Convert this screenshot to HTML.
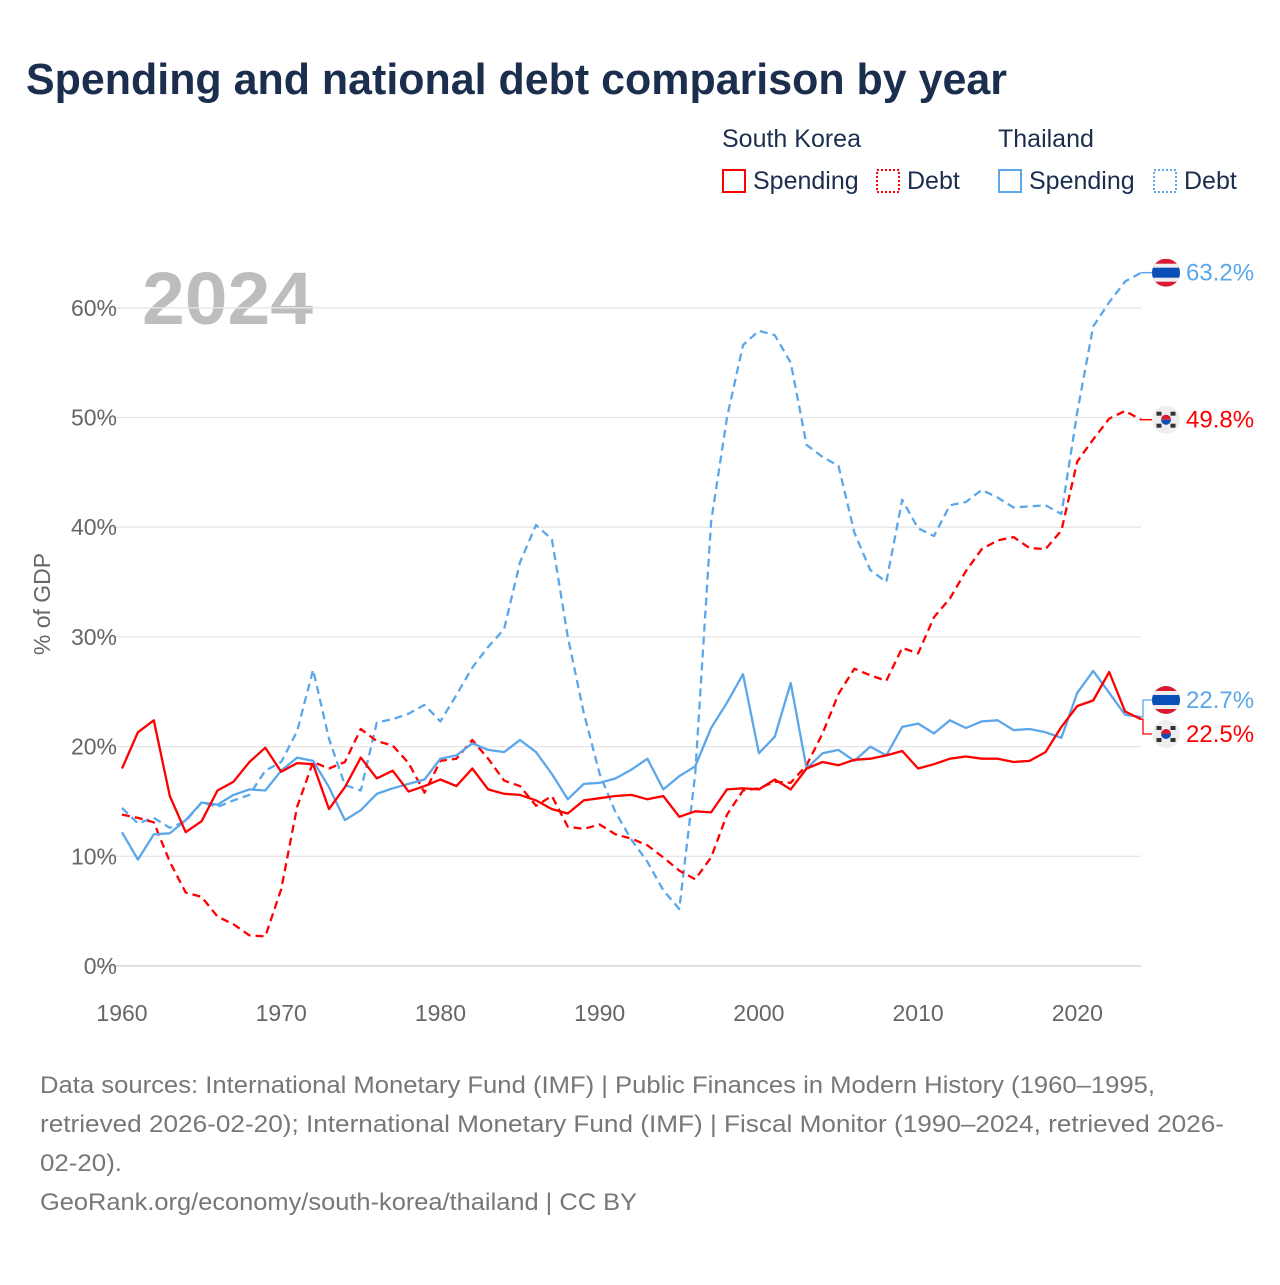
<!DOCTYPE html>
<html><head><meta charset="utf-8"><style>
body{margin:0;background:#fff;font-family:"Liberation Sans",sans-serif}
svg text{font-family:"Liberation Sans",sans-serif}
</style></head><body>
<svg width="1280" height="1280" viewBox="0 0 1280 1280" xmlns="http://www.w3.org/2000/svg">
<defs id="defs"></defs>
<text x="26" y="94" font-size="44" font-weight="bold" fill="#1b2e4e" textLength="981" lengthAdjust="spacingAndGlyphs">Spending and national debt comparison by year</text>
<g font-size="25" fill="#1b2e4e">
<text x="722" y="147">South Korea</text>
<text x="998" y="147">Thailand</text>
<rect x="723" y="170" width="22" height="22" fill="none" stroke="#f00" stroke-width="2"/>
<text x="753" y="189">Spending</text>
<rect x="877" y="170" width="22" height="22" fill="none" stroke="#f00" stroke-width="2" stroke-dasharray="2 2"/>
<text x="907" y="189">Debt</text>
<rect x="999" y="170" width="22" height="22" fill="none" stroke="#5ba7ea" stroke-width="2"/>
<text x="1029" y="189">Spending</text>
<rect x="1154" y="170" width="22" height="22" fill="none" stroke="#5ba7ea" stroke-width="2" stroke-dasharray="2 2"/>
<text x="1184" y="189">Debt</text>
</g>
<text x="142" y="324" font-size="74" font-weight="bold" fill="#bdbdbd" textLength="171" lengthAdjust="spacingAndGlyphs">2024</text>
<text transform="translate(50,604) rotate(-90)" text-anchor="middle" font-size="23" fill="#666">% of GDP</text>
<g id="grid"></g><g id="xt"></g><g id="lines"></g><g id="ends"></g>
<g font-size="24" fill="#777">
<text x="40" y="1093" textLength="1115" lengthAdjust="spacingAndGlyphs">Data sources: International Monetary Fund (IMF) | Public Finances in Modern History (1960–1995,</text>
<text x="40" y="1132" textLength="1184" lengthAdjust="spacingAndGlyphs">retrieved 2026-02-20); International Monetary Fund (IMF) | Fiscal Monitor (1990–2024, retrieved 2026-</text>
<text x="40" y="1171" textLength="82" lengthAdjust="spacingAndGlyphs">02-20).</text>
<text x="40" y="1210" textLength="597" lengthAdjust="spacingAndGlyphs">GeoRank.org/economy/south-korea/thailand | CC BY</text>
</g>
</svg>
<script>
const years=[];for(let y=1960;y<=2024;y++)years.push(y);
const yTicks=[0,10,20,30,40,50,60];
const xTicks=[1960,1970,1980,1990,2000,2010,2020];
const krSpending=[18.0,21.3,22.4,15.5,12.2,13.2,16.0,16.8,18.6,19.9,17.7,18.5,18.4,14.3,16.3,19.0,17.1,17.8,15.9,16.4,17.0,16.4,18.0,16.1,15.7,15.6,15.1,14.3,13.9,15.1,15.3,15.5,15.6,15.2,15.5,13.6,14.1,14.0,16.1,16.2,16.1,17.0,16.1,18.0,18.6,18.3,18.8,18.9,19.2,19.6,18.0,18.4,18.9,19.1,18.9,18.9,18.6,18.7,19.5,21.8,23.7,24.2,26.8,23.2,22.5];
const krDebt=[13.8,13.5,13.1,9.5,6.7,6.3,4.5,3.8,2.8,2.7,7.0,14.5,18.6,18.0,18.6,21.6,20.5,20.1,18.5,15.8,18.7,18.9,20.6,18.9,16.9,16.4,14.6,15.5,12.7,12.5,12.9,12.0,11.6,11.0,9.9,8.7,7.9,9.9,13.8,16.0,16.2,16.8,16.7,18.3,21.2,24.8,27.1,26.5,26.0,29.0,28.5,31.8,33.5,36.0,38.0,38.8,39.1,38.1,38.0,39.7,46.0,48.0,49.9,50.6,49.8];
const thSpending=[12.2,9.7,12.0,12.1,13.3,14.9,14.7,15.6,16.1,16.0,17.8,19.0,18.7,16.3,13.3,14.2,15.7,16.2,16.6,17.0,18.9,19.2,20.3,19.7,19.5,20.6,19.5,17.5,15.2,16.6,16.7,17.1,17.9,18.9,16.1,17.3,18.2,21.7,24.0,26.6,19.4,20.9,25.8,18.0,19.4,19.7,18.7,20.0,19.2,21.8,22.1,21.2,22.4,21.7,22.3,22.4,21.5,21.6,21.3,20.8,24.9,26.9,24.9,22.9,22.7];
const thDebt=[14.4,13.0,13.5,12.6,13.2,14.9,14.5,15.1,15.6,17.8,18.6,21.4,27.0,20.7,16.5,16.0,22.2,22.5,23.0,23.8,22.3,24.7,27.2,29.1,30.7,36.8,40.2,38.9,30.0,23.1,17.5,14.0,11.5,9.5,6.9,5.2,17.5,40.5,50.0,56.6,57.9,57.5,55.0,47.5,46.4,45.6,39.5,36.1,35.0,42.5,39.9,39.2,42.0,42.3,43.4,42.7,41.8,41.9,42.0,41.2,50.5,58.3,60.5,62.4,63.2];
const NS='http://www.w3.org/2000/svg';
const X0=122,X1=1141,Y0=966,YS=10.97;
const xs=y=>X0+(y-1960)*(X1-X0)/64;
const ys=v=>Y0-v*YS;
function mk(t,a,p){const e=document.createElementNS(NS,t);for(const k in a)e.setAttribute(k,a[k]);document.getElementById(p).appendChild(e);return e;}
yTicks.forEach(t=>{
 const l=mk('line',{x1:95,x2:X1,y1:ys(t),y2:ys(t),stroke:t===0?'#ccc':'#e6e6e6','stroke-width':1.3},'grid');
 
 
 const tx=mk('text',{x:117,y:ys(t)+8,'text-anchor':'end','font-size':23,fill:'#666'},'grid');
 tx.textContent=t+'%';
 
 
});
xTicks.forEach(t=>{
 const tx=mk('text',{x:xs(t),y:1021,'text-anchor':'middle','font-size':23,fill:'#666'},'xt');
 tx.textContent=t;
 
 
});
function line(vals,col,dash,name){
 const d=vals.map((v,i)=>(i?'L':'M')+xs(years[i]).toFixed(1)+' '+ys(v).toFixed(1)).join(' ');
 const p=mk('path',{d:d,fill:'none',stroke:col,'stroke-width':2.3,'stroke-dasharray':dash,'stroke-linejoin':'round'},'lines');
 
 
}
line(thDebt,'#5ba7ea','8 5','line-thailand-debt');
line(krDebt,'#f00','8 5','line-south-korea-debt');
line(thSpending,'#5ba7ea','none','line-thailand-spending');
line(krSpending,'#f00','none','line-south-korea-spending');
let fid=0;
function flag(cx,cy,kind,name){
 const id='fc'+(fid++);
 const cp=mk('clipPath',{id:id},'defs');
 const cc=document.createElementNS(NS,'circle');cc.setAttribute('cx',cx);cc.setAttribute('cy',cy);cc.setAttribute('r',14);cp.appendChild(cc);
 const g=mk('g',{'clip-path':'url(#'+id+')'},'ends');
 
 
 const ns=(t,a)=>{const e=document.createElementNS(NS,t);for(const k in a)e.setAttribute(k,a[k]);g.appendChild(e);return e;};
 if(kind==='th'){
  ns('rect',{x:cx-14,y:cy-14,width:28,height:28,fill:'#d91a33'});
  ns('rect',{x:cx-14,y:cy-9,width:28,height:18,fill:'#eee'});
  ns('rect',{x:cx-14,y:cy-5,width:28,height:10,fill:'#0a4fb5'});
 }else{
  ns('rect',{x:cx-14,y:cy-14,width:28,height:28,fill:'#eee'});
  ns('path',{d:`M${cx-5} ${cy}a5 5 0 0 1 10 0z`,fill:'#d91a33'});
  ns('path',{d:`M${cx-5} ${cy}a5 5 0 0 0 10 0z`,fill:'#0a4fb5'});
  [[-7,-6],[7,-6],[-7,6],[7,6]].forEach(o=>ns('rect',{x:cx+o[0]-2.5,y:cy+o[1]-2,width:5,height:4,fill:'#333'}));
 }
}
function lab(x,y,t,c,name){const e=mk('text',{x:x,y:y,'font-size':24,fill:c},'ends');e.textContent=t;
 
 }
const ex=xs(2024);
mk('line',{x1:ex,y1:ys(thDebt[64]),x2:1152,y2:ys(thDebt[64]),stroke:'#5ba7ea','stroke-width':1.5},'ends');
mk('line',{x1:ex,y1:ys(krDebt[64]),x2:1152,y2:ys(krDebt[64]),stroke:'#f00','stroke-width':1.5},'ends');
flag(1166,ys(thDebt[64]),'th','flag-thailand-debt');
lab(1186,ys(thDebt[64])+8,thDebt[64].toFixed(1)+'%','#5ba7ea','label-thailand-debt');
flag(1166,ys(krDebt[64]),'kr','flag-south-korea-debt');
lab(1186,ys(krDebt[64])+8,krDebt[64].toFixed(1)+'%','#f00','label-south-korea-debt');
mk('path',{d:`M${ex} ${ys(thSpending[64])}H1143V700H1152`,fill:'none',stroke:'#5ba7ea','stroke-width':1.3},'ends');
mk('path',{d:`M${ex} ${ys(krSpending[64])}H1143V734H1152`,fill:'none',stroke:'#f00','stroke-width':1.3},'ends');
flag(1166,700,'th','flag-thailand-spending');
lab(1186,708,thSpending[64].toFixed(1)+'%','#5ba7ea','label-thailand-spending');
flag(1166,734,'kr','flag-south-korea-spending');
lab(1186,742,krSpending[64].toFixed(1)+'%','#f00','label-south-korea-spending');
</script>
</body></html>
